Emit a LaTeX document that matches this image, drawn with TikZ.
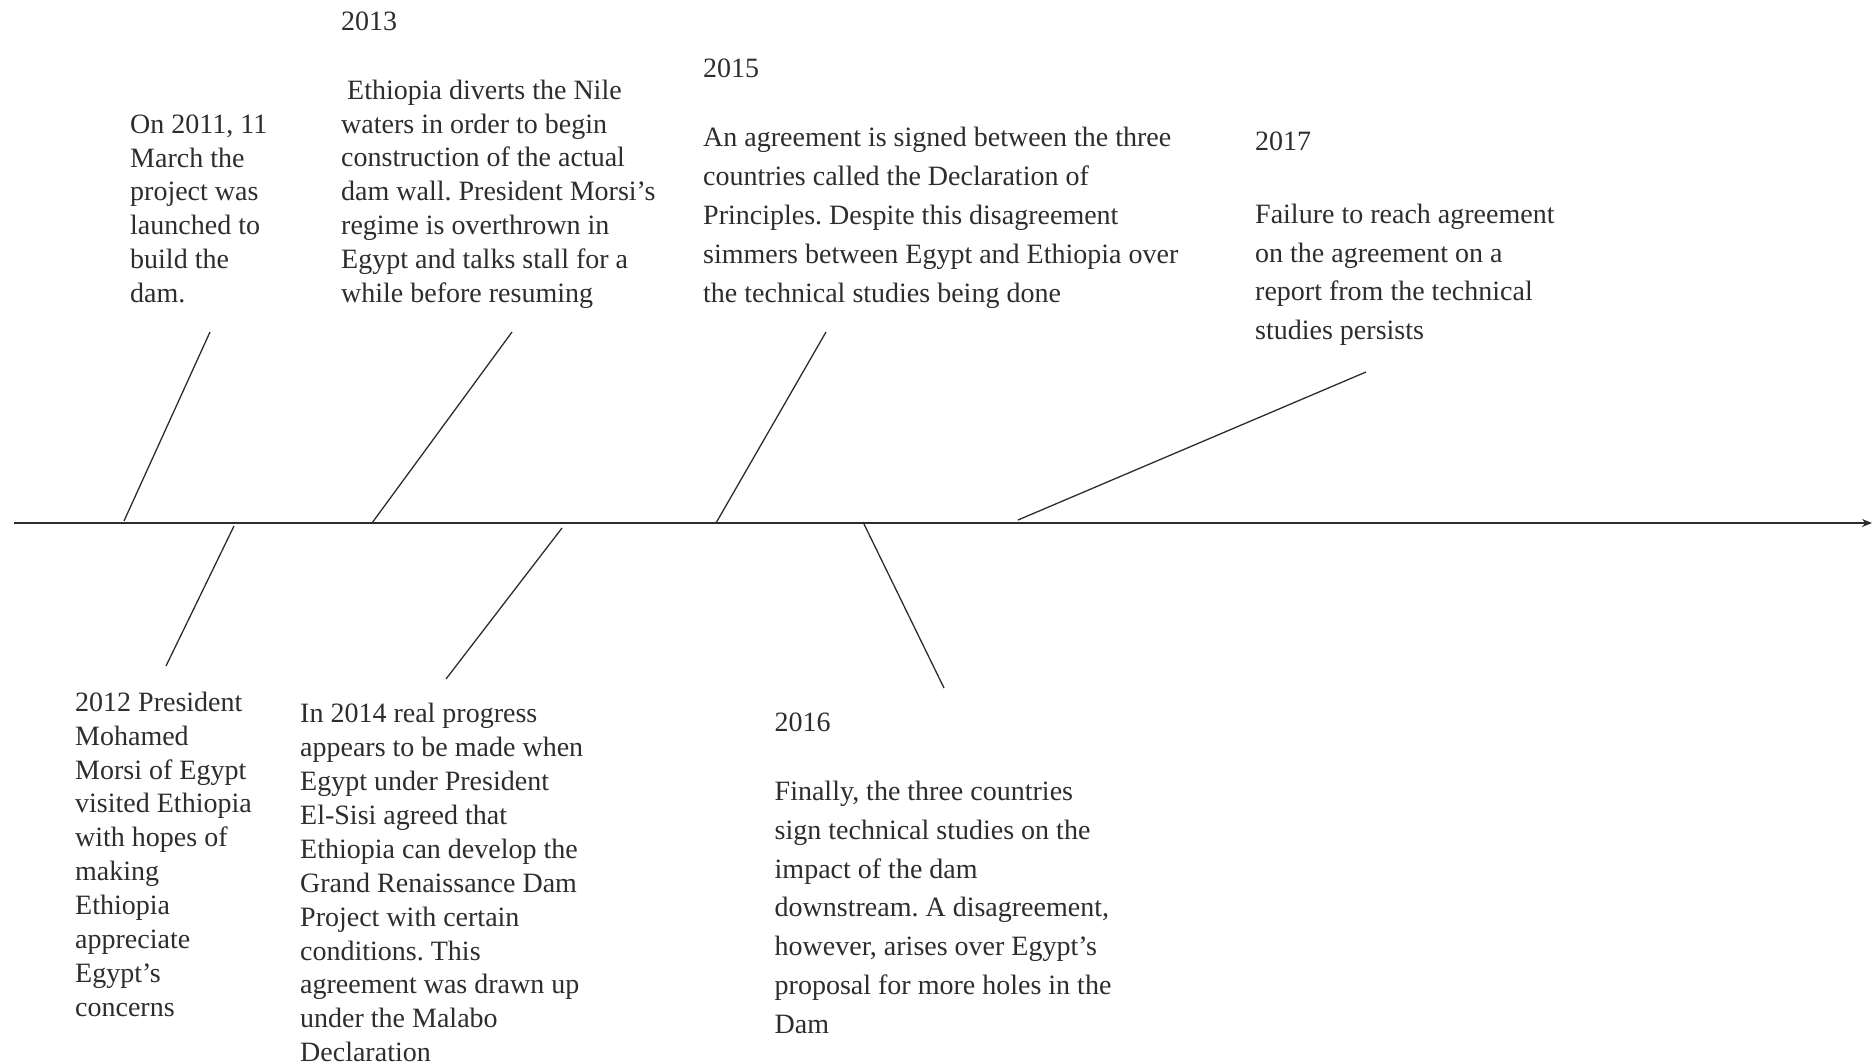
\documentclass[tikz,border=0pt]{standalone}
\usepackage{fontspec}
\setmainfont{Liberation Serif}
\usetikzlibrary{arrows.meta}
\definecolor{ink}{RGB}{45,45,45}
\frenchspacing
\begin{document}
\begin{tikzpicture}[x=1pt,y=-1pt,
  lbl/.style={anchor=north west,inner sep=0pt,align=left,text=ink},
  tight/.style={lbl,font=\fontsize{28}{33.9}\selectfont},
  loose/.style={lbl,font=\fontsize{28}{38.9}\selectfont},
  bone/.style={draw=ink,line width=1.3pt},
  axisline/.style={draw=ink,line width=1.8pt,-{Stealth[length=10pt,width=8pt]}}]
\useasboundingbox (0,0) rectangle (1874,1064);
\newcommand{\st}{\rule{0pt}{22pt}}
% axis
\coordinate (a0) at (14,523);
\coordinate (a1) at (1872,523);
\draw[axisline] (a0) -- (a1);
% texts
\node[tight] (t2011) at (130,111) {\st On 2011, 11\\March the\\project was\\launched to\\build the\\dam.};
\node[tight] (y2013) at (341,8.5) {\st 2013};
\node[tight] (t2013) at (341,77) {\st\hspace*{6pt}Ethiopia diverts the Nile\\waters in order to begin\\construction of the actual\\dam wall. President Morsi’s\\regime is overthrown in\\Egypt and talks stall for a\\while before resuming};
\node[loose] (y2015) at (703,55) {\st 2015};
\node[loose] (t2015) at (703,124.5) {\st An agreement is signed between the three\\countries called the Declaration of\\Principles. Despite this disagreement\\simmers between Egypt and Ethiopia over\\the technical studies being done};
\node[loose] (y2017) at (1255,128) {\st 2017};
\node[loose] (t2017) at (1255,201) {\st Failure to reach agreement\\on the agreement on a\\report from the technical\\studies persists};
\node[tight] (t2012) at (75,689) {\st 2012 President\\Mohamed\\Morsi of Egypt\\visited Ethiopia\\with hopes of\\making\\Ethiopia\\appreciate\\Egypt’s\\concerns};
\node[tight] (t2014) at (300,700.5) {\st In 2014 real progress\\appears to be made when\\Egypt under President\\El-Sisi agreed that\\Ethiopia can develop the\\Grand Renaissance Dam\\Project with certain\\conditions. This\\agreement was drawn up\\under the Malabo\\Declaration};
\node[loose] (y2016) at (774.5,709) {\st 2016};
\node[loose] (t2016) at (774.5,778) {\st Finally, the three countries\\sign technical studies on the\\impact of the dam\\downstream. A disagreement,\\however, arises over Egypt’s\\proposal for more holes in the\\Dam};
% bones: base points on axis and free ends
\coordinate (b2011) at (124,521);
\coordinate (e2011) at (210,332);
\coordinate (b2013) at (372,523);
\coordinate (e2013) at (512,332);
\coordinate (b2015) at (716,523);
\coordinate (e2015) at (826,332);
\coordinate (b2017) at (1018,520);
\coordinate (e2017) at (1366,372);
\coordinate (b2012) at (234,526);
\coordinate (e2012) at (166,666);
\coordinate (b2014) at (562,528);
\coordinate (e2014) at (446,679);
\coordinate (b2016) at (863,522);
\coordinate (e2016) at (944,688);
\draw[bone] (b2011) -- (e2011);
\draw[bone] (b2013) -- (e2013);
\draw[bone] (b2015) -- (e2015);
\draw[bone] (b2017) -- (e2017);
\draw[bone] (b2012) -- (e2012);
\draw[bone] (b2014) -- (e2014);
\draw[bone] (b2016) -- (e2016);
\end{tikzpicture}
\end{document}
